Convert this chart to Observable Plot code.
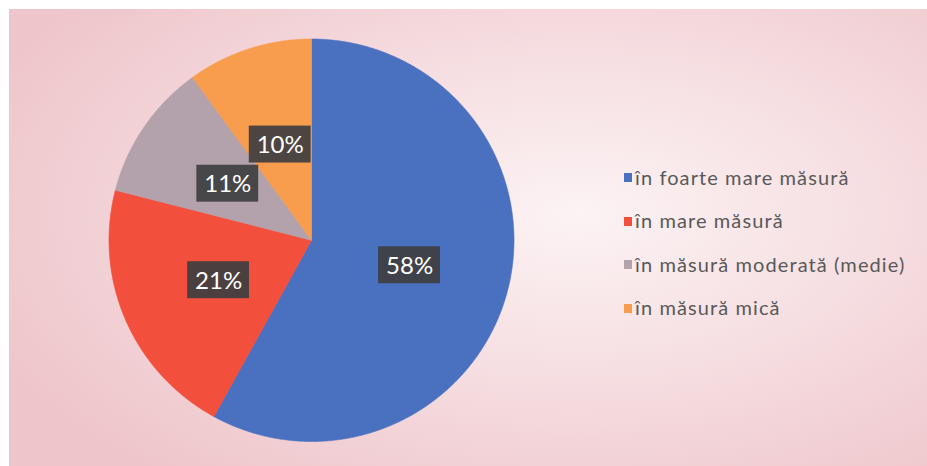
<!DOCTYPE html>
<html><head><meta charset="utf-8">
<script src="https://cdn.jsdelivr.net/npm/d3@7"></script>
<script src="https://cdn.jsdelivr.net/npm/@observablehq/plot@0.6"></script>
<style>
body{margin:0;background:#fff;}
#chart{position:relative;width:927px;height:466px;overflow:hidden;}
#bg{position:absolute;left:9px;top:9px;right:0;bottom:0;
 background: radial-gradient(ellipse 70% 75% at 62% 45%, #fcf3f4 0%, #f6dfe2 45%, #eec5ca 100%);}
#plot{position:absolute;left:0;top:0;}
#legend{position:absolute;left:624px;top:155px;font-family:Lato,"Open Sans",sans-serif;font-size:20px;letter-spacing:1.1px;color:#595959;}
.row{display:flex;align-items:center;height:43.5px;white-space:nowrap;}
.sw{width:8px;height:9px;margin-right:3px;margin-top:2px;}
</style></head>
<body>
<div id="chart"><div id="bg"></div><div id="plot"></div><div id="legend"></div></div>
<script>
const categories = ["în foarte mare măsură","în mare măsură","în măsură moderată (medie)","în măsură mică"];
const values = [58, 21, 11, 10];
const labels = ["58%", "21%", "11%", "10%"];
const colors = ["#4a70c0", "#f24f3d", "#b3a2ab", "#f89c4e"];

const arcs = d3.pie().sort(null).value(d => d)(values);
const poly = [];
arcs.forEach((a, i) => {
  const cat = categories[i];
  poly.push({cat, x: 0, y: 0});
  const n = Math.max(2, Math.ceil((a.endAngle - a.startAngle) / 0.005));
  for (let k = 0; k <= n; k++) {
    const t = a.startAngle + (a.endAngle - a.startAngle) * k / n;
    poly.push({cat, x: Math.sin(t), y: Math.cos(t)});
  }
  poly.push({cat, x: 0, y: 0});
});
const lab = arcs.map((a, i) => {
  const m = (a.startAngle + a.endAngle) / 2;
  return {cat: categories[i], label: labels[i], x: 0.5 * Math.sin(m), y: 0.5 * Math.cos(m)};
});
const bw = 31 / 203, bh = 18.5 / 201.5;

const plot = Plot.plot({
  width: 927, height: 466,
  style: {background: "transparent", overflow: "visible"},
  x: {domain: [-1, 1], range: [108.5, 513.5], axis: null},
  y: {domain: [-1, 1], range: [441, 38.5], axis: null},
  color: {domain: categories, range: colors},
  marks: [
    Plot.line(poly, {x: "x", y: "y", z: "cat", fill: "cat", stroke: "cat", strokeWidth: 0.6, curve: "linear"}),
    Plot.rect(lab, {x1: d => d.x - bw, x2: d => d.x + bw, y1: d => d.y - bh, y2: d => d.y + bh, fill: "#3e3e40", fillOpacity: 0.92}),
    Plot.text(lab, {x: "x", y: "y", text: "label", fill: "white", fontSize: 24, fontFamily: "Lato, 'Open Sans', sans-serif", dy: 1})
  ]
});
document.getElementById("plot").append(plot);

const leg = d3.select("#legend");
categories.forEach((c, i) => {
  const r = leg.append("div").attr("class", "row");
  r.append("div").attr("class", "sw").style("background", colors[i]);
  r.append("span").text(c);
});
</script>
</body></html>
